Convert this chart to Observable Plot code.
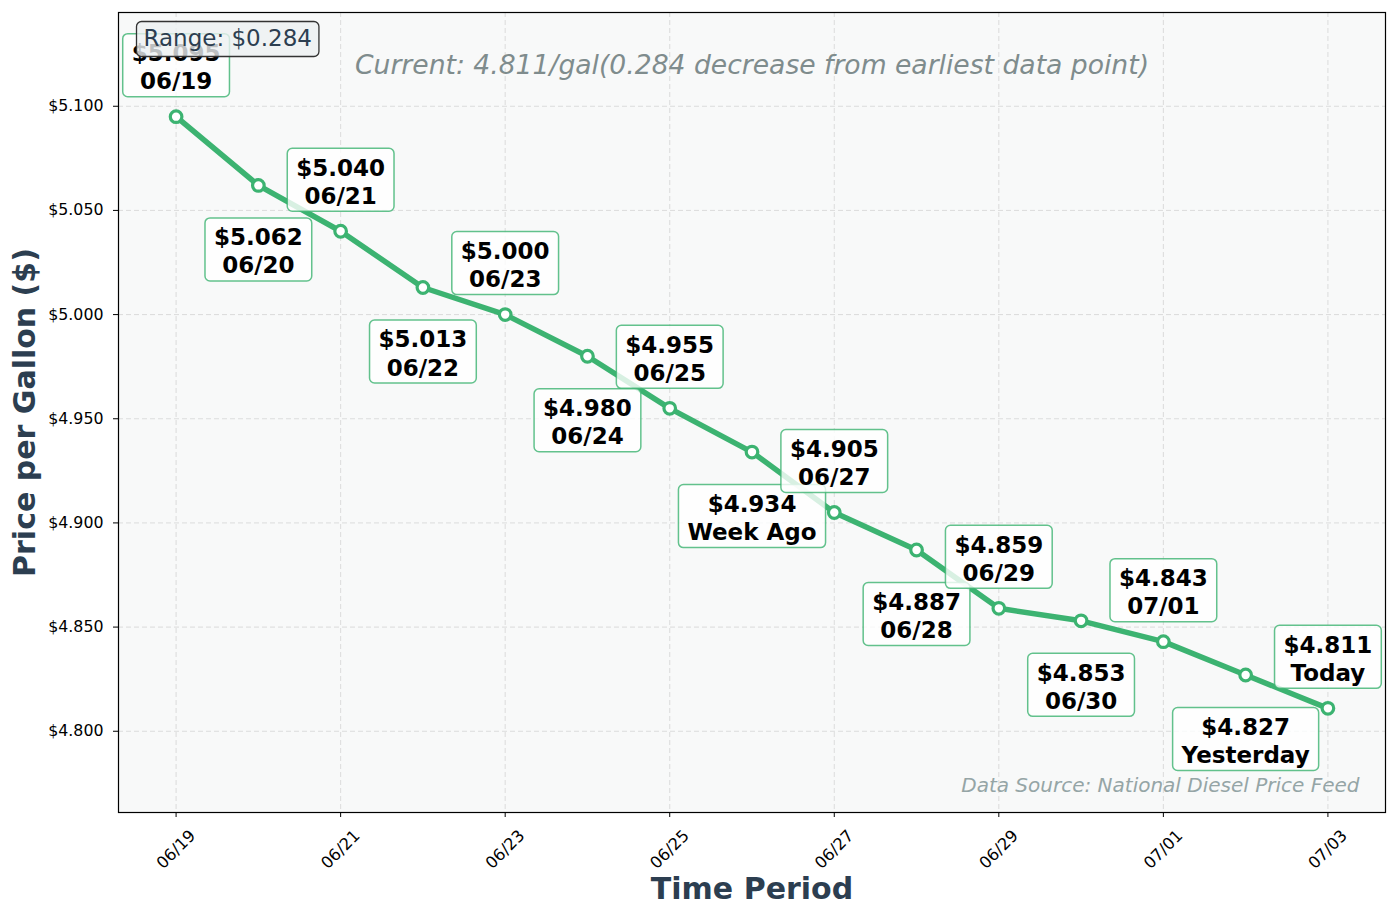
<!DOCTYPE html>
<html>
<head>
<meta charset="utf-8">
<script src="https://cdn.jsdelivr.net/npm/d3@7"></script>
<script src="https://cdn.jsdelivr.net/npm/@observablehq/plot@0.6"></script>
<style>
  html, body { margin: 0; padding: 0; background: #ffffff; }
  #chart svg { display: block; }
</style>
</head>
<body>
<div id="chart"></div>
<script>
// Daily diesel prices, 06/19 through 07/03
const dates = [
  "2025-06-19", "2025-06-20", "2025-06-21", "2025-06-22", "2025-06-23",
  "2025-06-24", "2025-06-25", "2025-06-26", "2025-06-27", "2025-06-28",
  "2025-06-29", "2025-06-30", "2025-07-01", "2025-07-02", "2025-07-03"
];
const prices = [
  5.095, 5.062, 5.040, 5.013, 5.000,
  4.980, 4.955, 4.934, 4.905, 4.887,
  4.859, 4.853, 4.843, 4.827, 4.811
];
const pointTags = [
  "06/19", "06/20", "06/21", "06/22", "06/23",
  "06/24", "06/25", "Week Ago", "06/27", "06/28",
  "06/29", "06/30", "07/01", "Yesterday", "Today"
];
const yTickValues = [4.80, 4.85, 4.90, 4.95, 5.00, 5.05, 5.10];

const rows = dates.map((d, i) => ({
  date: new Date(d + "T00:00:00Z"),
  price: prices[i],
  tag: pointTags[i],
  index: i
}));

const DAY = 864e5;
const first = rows[0], last = rows[rows.length - 1];
const xTicks = rows.filter((d, i) => i % 2 === 0).map(d => d.date);
const fmtDay = d3.utcFormat("%m/%d");
const priceMin = d3.min(prices), priceMax = d3.max(prices);
const change = first.price - last.price;

const GREEN = "#3cb371";
const SLATE = "#2c3e50";
const FONT = "DejaVu Sans";
const SVGNS = "http://www.w3.org/2000/svg";
const LABEL_SIZE = 23;

const measureCtx = document.createElement("canvas").getContext("2d");
function textWidth(str, font) {
  measureCtx.font = font;
  return measureCtx.measureText(str).width;
}
function readTranslate(el) {
  const m = /translate\(\s*([-\d.e]+)[ ,]+([-\d.e]+)\s*\)/.exec(el.getAttribute("transform") || "");
  return m ? [+m[1], +m[2]] : [0, 0];
}
function makeRect(x, y, w, h, attrs) {
  const r = document.createElementNS(SVGNS, "rect");
  r.setAttribute("x", x); r.setAttribute("y", y);
  r.setAttribute("width", w); r.setAttribute("height", h);
  for (const [k, v] of Object.entries(attrs)) r.setAttribute(k, v);
  return r;
}

// Point annotations: alternate above/below the marker, each on a rounded box
function pointLabelBoxes(index, scales, values, dims, context, next) {
  const g = next(index, scales, values, dims, context);
  const font = `bold ${LABEL_SIZE}px "${FONT}"`;
  g.querySelectorAll("text").forEach((t, j) => {
    const i = index[j];
    const shift = rows[i].index % 2 === 0 ? -50.5 : 65;
    const x = values.x[i], y = values.y[i] + shift;
    t.removeAttribute("x"); t.removeAttribute("y");
    t.setAttribute("transform", `translate(${x},${y})`);
    const spans = Array.from(t.querySelectorAll("tspan")).map(s => s.textContent);
    const lines = spans.length ? spans : [t.textContent];
    const w = Math.max(...lines.map(l => textWidth(l, font))) + 18;
    const h = 63;
    g.insertBefore(makeRect(x - w / 2, y - h / 2 - 1, w, h, {
      rx: 5, fill: "#ffffff", "fill-opacity": 0.8,
      stroke: GREEN, "stroke-opacity": 0.8, "stroke-width": 1.5
    }), t);
  });
  return g;
}

// Summary box in the upper-left corner
function rangeBox(index, scales, values, dims, context, next) {
  const g = next(index, scales, values, dims, context);
  const font = `23px "${FONT}"`;
  g.querySelectorAll("text").forEach(t => {
    const [x, y] = readTranslate(t);
    const w = textWidth(t.textContent, font) + 14;
    g.insertBefore(makeRect(x - 7, y - 17.5, w, 35, {
      rx: 5, fill: "#ecf0f1", "fill-opacity": 0.8,
      stroke: "#333333", "stroke-width": 1.3
    }), t);
  });
  return g;
}

const chart = Plot.plot({
  width: 1397,
  height: 918,
  marginLeft: 118,
  marginRight: 12,
  marginTop: 12,
  marginBottom: 106,
  style: { fontFamily: FONT, background: "#ffffff", color: "#000000" },
  x: {
    type: "utc",
    domain: [new Date(+first.date - 0.7 * DAY), new Date(+last.date + 0.7 * DAY)]
  },
  y: {
    domain: [priceMin - 0.05, priceMax + 0.05]
  },
  marks: [
    Plot.frame({ fill: "#f8f9f9", stroke: null }),
    Plot.gridY(yTickValues, { stroke: "#c8c8c8", strokeOpacity: 0.6, strokeDasharray: "5,3" }),
    Plot.gridX(xTicks, { stroke: "#c8c8c8", strokeOpacity: 0.6, strokeDasharray: "5,3" }),
    Plot.axisY(yTickValues, {
      tickSize: 5, tickPadding: 10, fontSize: 15.8, label: null,
      tickFormat: d => "$" + d.toFixed(3)
    }),
    Plot.axisX(xTicks, { tickSize: 5, tickFormat: () => "", label: null }),
    Plot.text(xTicks, {
      x: d => d, frameAnchor: "bottom", dy: 37, rotate: -45,
      text: d => fmtDay(d), textAnchor: "middle", lineAnchor: "middle",
      fontSize: 16.3, fill: "#000000"
    }),
    Plot.line(rows, { x: "date", y: "price", stroke: GREEN, strokeWidth: 5.5, strokeLinejoin: "round", strokeLinecap: "round" }),
    Plot.dot(rows, { x: "date", y: "price", r: 5.8, fill: "#ffffff", stroke: GREEN, strokeWidth: 3.2 }),
    Plot.text(rows, {
      x: "date", y: "price",
      text: d => `$${d.price.toFixed(3)}\n${d.tag}`,
      fontSize: LABEL_SIZE, fontWeight: "bold", lineHeight: 1.22,
      textAnchor: "middle", lineAnchor: "middle", fill: "#000000",
      render: pointLabelBoxes
    }),
    Plot.text([`Current: ${last.price.toFixed(3)}/gal(${change.toFixed(3)} decrease from earliest data point)`], {
      frameAnchor: "top", dy: 53, lineAnchor: "middle",
      fontSize: 26.6, fontStyle: "italic", fill: "#7f8c8d"
    }),
    Plot.text([`Range: $${(priceMax - priceMin).toFixed(3)}`], {
      frameAnchor: "top-left", dx: 25, dy: 26.5, textAnchor: "start", lineAnchor: "middle",
      fontSize: 23, fill: SLATE, render: rangeBox
    }),
    Plot.text(["Data Source: National Diesel Price Feed"], {
      frameAnchor: "bottom-right", dx: -26, dy: -27, textAnchor: "end", lineAnchor: "middle",
      fontSize: 20, fontStyle: "italic", fill: "#95a5a6"
    }),
    Plot.text(["Time Period"], {
      frameAnchor: "bottom", dy: 77, lineAnchor: "middle",
      fontSize: 30, fontWeight: "bold", fill: SLATE
    }),
    Plot.text(["Price per Gallon ($)"], {
      frameAnchor: "left", dx: -93, rotate: -90, textAnchor: "middle", lineAnchor: "middle",
      fontSize: 30, fontWeight: "bold", fill: SLATE
    }),
    Plot.frame({ stroke: "#000000", strokeWidth: 1.2 })
  ]
});

document.getElementById("chart").append(chart);
</script>
</body>
</html>
